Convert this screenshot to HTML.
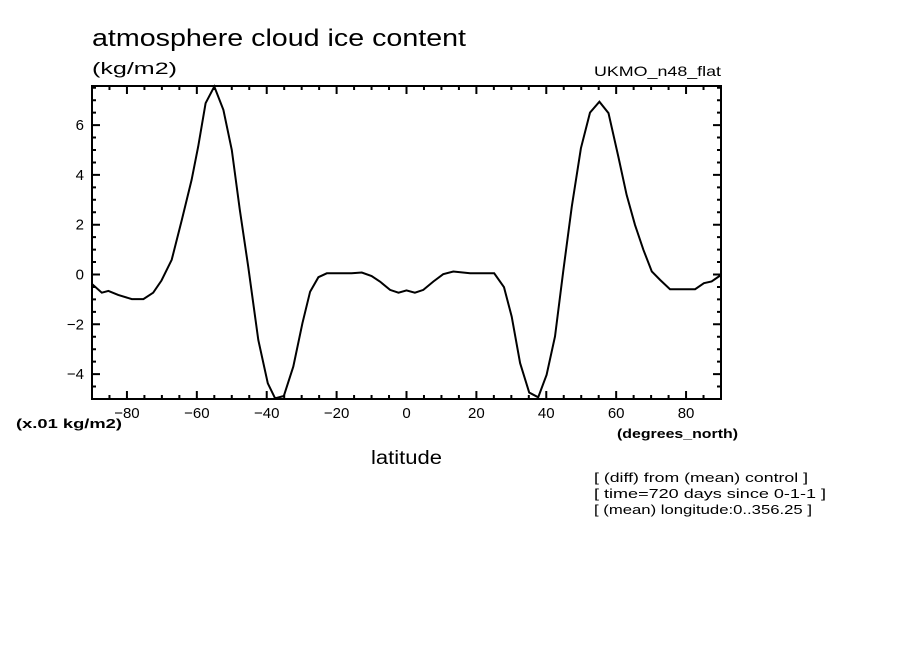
<!DOCTYPE html>
<html><head><meta charset="utf-8"><style>
body{margin:0;background:#fff;}
svg text{font-family:"Liberation Sans",sans-serif;fill:#000;}
</style></head><body>
<svg id="chart" width="904" height="654" xmlns="http://www.w3.org/2000/svg">
<rect width="904" height="654" fill="#fff"/>
<text x="92" y="46" font-size="24" textLength="374" lengthAdjust="spacingAndGlyphs">atmosphere cloud ice content</text>
<text x="92" y="74" font-size="17" textLength="85" lengthAdjust="spacingAndGlyphs">(kg/m2)</text>
<text x="594" y="76" font-size="14" textLength="127" lengthAdjust="spacingAndGlyphs">UKMO_n48_flat</text>
<text x="16" y="428" font-size="13" font-weight="bold" textLength="106" lengthAdjust="spacingAndGlyphs">(x.01 kg/m2)</text>
<text x="617" y="438" font-size="13" font-weight="bold" textLength="121" lengthAdjust="spacingAndGlyphs">(degrees_north)</text>
<text x="371" y="464" font-size="19" textLength="71" lengthAdjust="spacingAndGlyphs">latitude</text>
<text x="594" y="482" font-size="13" textLength="214" lengthAdjust="spacingAndGlyphs">[ (diff) from (mean) control ]</text>
<text x="594" y="498" font-size="13" textLength="232" lengthAdjust="spacingAndGlyphs">[ time=720 days since 0-1-1 ]</text>
<text x="594" y="514" font-size="13" textLength="218" lengthAdjust="spacingAndGlyphs">[ (mean) longitude:0..356.25 ]</text>
<g id="axes"></g>
<g id="series"></g>
</svg>
<script>
const lats=[-90,-87.2,-85.3,-82.5,-78.6,-75.3,-72.5,-70.1,-67.2,-64.3,-61.5,-59.6,-57.5,-55,-52.4,-50,-47.7,-45.3,-42.4,-39.7,-37.6,-35.1,-32.4,-29.8,-27.6,-25.2,-22.8,-15.7,-12.8,-10,-7.6,-4.7,-2.3,0,2.4,4.8,7.7,10.5,13.4,18.2,25.1,27.9,30.1,32.5,35.1,37.7,40.1,42.5,44.9,47.3,49.9,52.5,55.2,57.8,60.6,63,65.4,67.8,70.2,72.6,75.4,82.6,85.1,87.3,90];
const values=[-0.38,-0.73,-0.66,-0.82,-0.99,-0.99,-0.73,-0.24,0.59,2.19,3.8,5.14,6.88,7.55,6.61,5.0,2.6,0.32,-2.63,-4.37,-4.97,-4.88,-3.7,-1.96,-0.69,-0.11,0.05,0.05,0.08,-0.06,-0.28,-0.62,-0.73,-0.64,-0.73,-0.62,-0.28,0.01,0.12,0.05,0.05,-0.51,-1.69,-3.56,-4.74,-4.93,-4.03,-2.49,0.18,2.73,5.07,6.5,6.94,6.48,4.74,3.2,1.99,0.99,0.12,-0.22,-0.59,-0.59,-0.35,-0.28,-0.02];
const xTicks=[-80,-60,-40,-20,0,20,40,60,80];
const yTicks=[-4,-2,0,2,4,6];
const X0=92,X1=721,Y0=86,Y1=399,XMIN=-90,XMAX=90,YMIN=-5,YMAX=7.57;
const sx=v=>X0+(v-XMIN)/(XMAX-XMIN)*(X1-X0);
const sy=v=>Y1-(v-YMIN)/(YMAX-YMIN)*(Y1-Y0);
const NS="http://www.w3.org/2000/svg";
const ax=document.getElementById('axes');
function mk(t,a,p){const e=document.createElementNS(NS,t);for(const k in a)e.setAttribute(k,a[k]);p.appendChild(e);return e;}
const fr=mk('rect',{x:X0,y:Y0,width:X1-X0,height:Y1-Y0,fill:'none',stroke:'#000','stroke-width':2},ax);


let d='';
for(let v=-90;v<=90;v+=5){const x=sx(v);const L=(v%20===0&&v!==-90&&v!==90)?8:4;d+=`M${x},${Y1}v${-L}M${x},${Y0}v${L}`;}
for(let v=-5;v<=7.5;v+=0.5){const y=sy(v);const L=(Math.abs(v%2)===0)?8:4;d+=`M${X0},${y}h${L}M${X1},${y}h${-L}`;}
const tk=mk('path',{d:d,stroke:'#000','stroke-width':2,fill:'none'},ax);


xTicks.forEach(v=>{const t=mk('text',{x:sx(v),y:Y1+19,'font-size':15,'text-anchor':'middle'},ax);t.textContent=(v<0?'\u2212':'')+Math.abs(v);

});
yTicks.forEach(v=>{const t=mk('text',{x:X0-8,y:sy(v)+5,'font-size':15,'text-anchor':'end'},ax);t.textContent=(v<0?'\u2212':'')+Math.abs(v);

});
const pts=lats.map((l,i)=>sx(l).toFixed(1)+','+sy(values[i]).toFixed(1)).join(' ');
const ln=mk('polyline',{points:pts,fill:'none',stroke:'#000','stroke-width':2},document.getElementById('series'));


</script>
</body></html>
